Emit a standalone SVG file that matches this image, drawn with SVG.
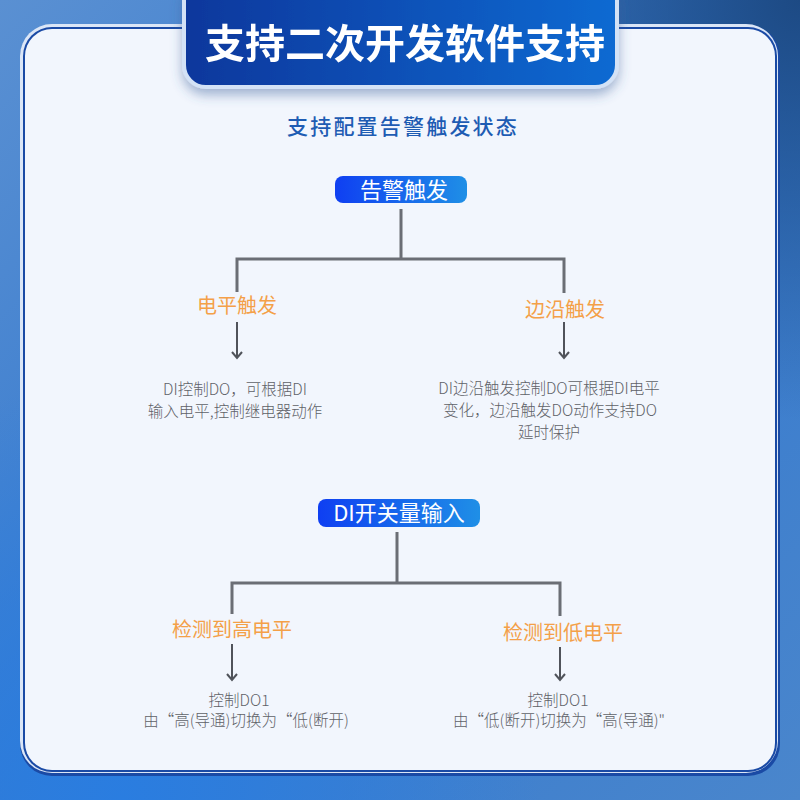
<svg xmlns="http://www.w3.org/2000/svg" width="800" height="800" viewBox="0 0 800 800">
  <defs>
    <linearGradient id="bg" x1="0" y1="0" x2="1" y2="1">
      <stop offset="0" stop-color="#5a90d2"/>
      <stop offset="0.5" stop-color="#3479cf"/>
      <stop offset="1" stop-color="#4a86cc"/>
    </linearGradient>
    <radialGradient id="tr" cx="800" cy="0" r="420" gradientUnits="userSpaceOnUse">
      <stop offset="0" stop-color="#1d4a84" stop-opacity="1"/>
      <stop offset="1" stop-color="#1d4a84" stop-opacity="0"/>
    </radialGradient>
    <radialGradient id="bl" cx="120" cy="800" r="420" gradientUnits="userSpaceOnUse">
      <stop offset="0" stop-color="#2a7de0" stop-opacity="1"/>
      <stop offset="1" stop-color="#2a7de0" stop-opacity="0"/>
    </radialGradient>
    <linearGradient id="banner" x1="0" y1="0" x2="1" y2="0">
      <stop offset="0" stop-color="#0c379c"/>
      <stop offset="1" stop-color="#0a6ad2"/>
    </linearGradient>
    <linearGradient id="pill" x1="0" y1="0" x2="1" y2="0">
      <stop offset="0" stop-color="#0f3ff2"/>
      <stop offset="1" stop-color="#1f8fe6"/>
    </linearGradient>
    <filter id="shadow" x="-20%" y="-20%" width="140%" height="160%">
      <feGaussianBlur in="SourceAlpha" stdDeviation="6"/>
      <feOffset dy="6" result="b"/>
      <feFlood flood-color="#3a5f9a" flood-opacity="0.45"/>
      <feComposite in2="b" operator="in"/>
      <feMerge><feMergeNode/><feMergeNode in="SourceGraphic"/></feMerge>
    </filter>
    <marker id="arrow" markerWidth="10" markerHeight="12" refX="8" refY="6" orient="auto" markerUnits="userSpaceOnUse" viewBox="0 0 10 12">
      <path d="M2,1 L8,6 L2,11" fill="none" stroke="#50535a" stroke-width="2"/>
    </marker>
  </defs>
  <style>
    .cjk { font-family: "Noto Sans CJK SC", "Noto Sans", sans-serif; }
    .title { font-size: 40px; font-weight: 700; fill: #ffffff; }
    .sub { font-size: 21px; font-weight: 500; fill: #1e5cb3; letter-spacing: 2.2px; }
    .pilltxt { font-size: 22px; font-weight: 400; fill: #ffffff; }
    .orange { font-size: 20px; font-weight: 400; fill: #f4a048; }
    .desc { font-size: 15.5px; font-weight: 300; fill: #5f6268; }
    .conn { fill: none; stroke: #6b6e75; stroke-width: 3; }
    .arr { fill: none; stroke: #50535a; stroke-width: 2; }
  </style>

  <!-- background -->
  <rect x="0" y="0" width="800" height="800" fill="url(#bg)"/>
  <rect x="0" y="0" width="800" height="800" fill="url(#tr)"/>
  <rect x="0" y="0" width="800" height="800" fill="url(#bl)"/>

  <!-- card -->
  <g id="card">
    <rect x="20" y="25" width="760" height="751" rx="32" fill="#1a4aa5"/>
    <rect x="20" y="24" width="758" height="749" rx="32" fill="#dbe6f7"/>
    <rect x="23" y="27" width="754" height="745" rx="29" fill="#1a4aa5"/>
    <rect x="25" y="29" width="750" height="741" rx="27" fill="#f2f6fd"/>
  </g>

  <!-- title banner -->
  <g id="title-banner" filter="url(#shadow)">
    <rect x="184" y="-22" width="433" height="109" rx="22" fill="url(#banner)" stroke="#d3e2f6" stroke-width="4"/>
    <text class="cjk title" x="405" y="58" text-anchor="middle">支持二次开发软件支持</text>
  </g>

  <g id="subtitle">
    <text class="cjk sub" x="403" y="134" text-anchor="middle">支持配置告警触发状态</text>
  </g>

  <!-- connectors -->
  <g id="connectors">
    <path class="conn" d="M401,209 V259 M237,292 V259 H564 V293"/>
    <path class="conn" d="M397,532 V583 M232,614 V583 H560 V616"/>
    <line class="arr" x1="237" y1="322" x2="237" y2="358" marker-end="url(#arrow)"/>
    <line class="arr" x1="564" y1="322" x2="564" y2="358" marker-end="url(#arrow)"/>
    <line class="arr" x1="232" y1="644" x2="232" y2="680" marker-end="url(#arrow)"/>
    <line class="arr" x1="560" y1="647" x2="560" y2="680" marker-end="url(#arrow)"/>
  </g>

  <!-- section 1 -->
  <g id="node-alarm">
    <rect x="335" y="176" width="132" height="27" rx="8" fill="url(#pill)"/>
    <text class="cjk pilltxt" x="404" y="198" text-anchor="middle">告警触发</text>
  </g>
  <g id="node-level">
    <text class="cjk orange" x="237" y="313" text-anchor="middle">电平触发</text>
  </g>
  <g id="node-edge">
    <text class="cjk orange" x="565" y="317" text-anchor="middle">边沿触发</text>
  </g>
  <g id="desc-level">
    <text class="cjk desc" x="235" y="395" text-anchor="middle">DI控制DO，可根据DI</text>
    <text class="cjk desc" x="235" y="417" text-anchor="middle">输入电平,控制继电器动作</text>
  </g>
  <g id="desc-edge">
    <text class="cjk desc" x="549" y="394" text-anchor="middle">DI边沿触发控制DO可根据DI电平</text>
    <text class="cjk desc" x="550" y="416" text-anchor="middle">变化，边沿触发DO动作支持DO</text>
    <text class="cjk desc" x="549" y="438" text-anchor="middle">延时保护</text>
  </g>

  <!-- section 2 -->
  <g id="node-di">
    <rect x="318" y="499" width="162" height="28" rx="8" fill="url(#pill)"/>
    <text class="cjk pilltxt" x="399" y="521" text-anchor="middle">DI开关量输入</text>
  </g>
  <g id="node-high">
    <text class="cjk orange" x="232" y="637" text-anchor="middle">检测到高电平</text>
  </g>
  <g id="node-low">
    <text class="cjk orange" x="563" y="640" text-anchor="middle">检测到低电平</text>
  </g>
  <g id="desc-high">
    <text class="cjk desc" x="239" y="706" text-anchor="middle">控制DO1</text>
    <text class="cjk desc" x="246" y="726" text-anchor="middle">由“高(导通)切换为“低(断开)</text>
  </g>
  <g id="desc-low">
    <text class="cjk desc" x="558" y="706" text-anchor="middle">控制DO1</text>
    <text class="cjk desc" x="559" y="726" text-anchor="middle">由“低(断开)切换为“高(导通)"</text>
  </g>
</svg>
